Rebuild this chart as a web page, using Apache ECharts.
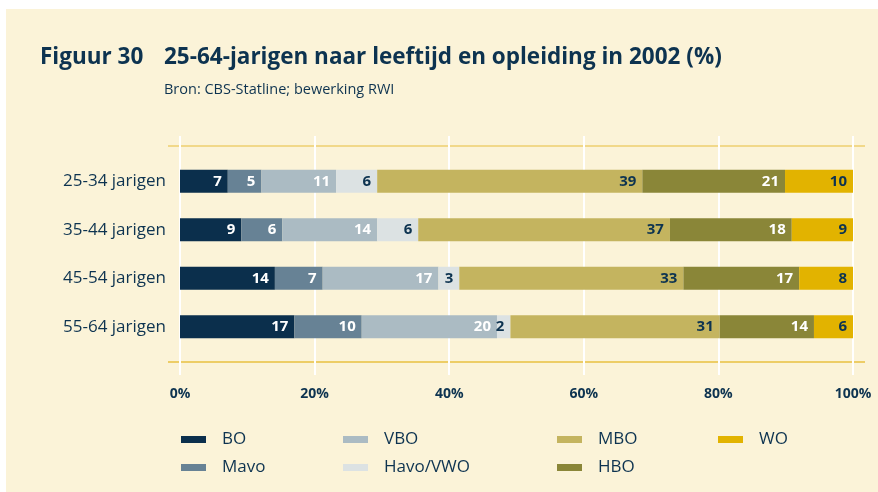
<!DOCTYPE html>
<html>
<head>
<meta charset="utf-8">
<title>Figuur 30</title>
<script src="https://cdn.jsdelivr.net/npm/echarts@6/dist/echarts.min.js"></script>
<style>
    html, body { margin: 0; padding: 0; background: #ffffff; }
    #chart { position: absolute; left: 6px; top: 9px; width: 872px; height: 483px; background: #fbf3d8; }
</style>
</head>
<body>
<div id="chart"></div>
<script>
// leeftijdsgroepen
var categories = ['25-34 jarigen', '35-44 jarigen', '45-54 jarigen', '55-64 jarigen'];
// aandelen per opleidingsniveau (%)
var bo    = [7.1, 9.1, 14.1, 17.0];
var mavo  = [5.0, 6.1, 7.1, 10.0];
var vbo   = [11.1, 14.1, 17.2, 20.1];
var havo  = [6.1, 6.1, 3.1, 2.0];
var mbo   = [39.4, 37.4, 33.3, 31.1];
var hbo   = [21.2, 18.1, 17.2, 14.0];
var wo    = [10.1, 9.1, 8.0, 5.9];
var xTicks = [0, 20, 40, 60, 80, 100];

var navy = '#0d3350';
var font = 'Open Sans';

function serie(name, data, color, labelColor) {
    return {
        name: name,
        type: 'bar',
        stack: 'totaal',
        xAxisIndex: 0,
        yAxisIndex: 0,
        barWidth: 23,
        data: data,
        itemStyle: { color: color },
        label: {
            show: true,
            position: 'insideRight',
            distance: 6,
            color: labelColor,
            fontFamily: font,
            fontWeight: 'bold',
            fontSize: 15,
            formatter: function (p) { return Math.round(p.value); }
        }
    };
}

var myChart = echarts.init(document.getElementById('chart'));
myChart.setOption({
    backgroundColor: '#fbf3d8',
    animation: false,
    title: [
        {
            text: 'Figuur 30',
            left: 34, top: 37, padding: 0,
            textStyle: { color: navy, fontFamily: font, fontWeight: 'bold', fontSize: 22.5 }
        },
        {
            text: '25-64-jarigen naar leeftijd en opleiding in 2002 (%)',
            subtext: 'Bron: CBS-Statline; bewerking RWI',
            left: 158, top: 37, padding: 0, itemGap: 13,
            textStyle: { color: navy, fontFamily: font, fontWeight: 'bold', fontSize: 22.5 },
            subtextStyle: { color: navy, fontFamily: font, fontSize: 14.5 }
        }
    ],
    legend: [
        { data: ['BO', 'Mavo'], left: 175, top: 422 },
        { data: ['VBO', 'Havo/VWO'], left: 337, top: 422 },
        { data: ['MBO', 'HBO'], left: 551, top: 422 },
        { data: ['WO'], left: 712, top: 422 }
    ].map(function (l) {
        return Object.assign(l, {
            orient: 'vertical', padding: 0,
            itemWidth: 25, itemHeight: 7, itemGap: 11,
            icon: 'rect',
            textStyle: { color: navy, fontFamily: font, fontSize: 17, padding: [0, 0, 0, 11] }
        });
    }),
    grid: [
        { left: 174, right: 25, top: 148, height: 194 },
        { left: 174, right: 25, top: 127, height: 239 }
    ],
    xAxis: [
        { gridIndex: 0, type: 'value', min: 0, max: 100, show: false },
        {
            gridIndex: 1, type: 'value', min: 0, max: 100, interval: 20,
            axisLine: { show: false }, axisTick: { show: false },
            splitLine: { show: true, lineStyle: { color: '#ffffff', width: 2 } },
            axisLabel: {
                margin: 12, color: navy, fontFamily: font, fontWeight: 'bold', fontSize: 14,
                formatter: function (v) { return xTicks.indexOf(v) >= 0 ? v + '%' : ''; }
            }
        }
    ],
    yAxis: [
        {
            gridIndex: 0, type: 'category', data: categories, inverse: true,
            axisLine: { show: false }, axisTick: { show: false },
            axisLabel: { margin: 14, color: navy, fontFamily: font, fontSize: 17 }
        },
        { gridIndex: 1, type: 'value', show: false }
    ],
    graphic: [
        { type: 'line', shape: { x1: 162, y1: 137, x2: 859, y2: 137 }, style: { stroke: '#f1d889', lineWidth: 2 } },
        { type: 'line', shape: { x1: 162, y1: 353, x2: 859, y2: 353 }, style: { stroke: '#e8c041', lineWidth: 1.5 } }
    ],
    series: [
        serie('BO', bo, '#0b2f4c', '#ffffff'),
        serie('Mavo', mavo, '#678295', '#ffffff'),
        serie('VBO', vbo, '#abbbc3', '#ffffff'),
        serie('Havo/VWO', havo, '#dce2e3', navy),
        serie('MBO', mbo, '#c4b45f', navy),
        serie('HBO', hbo, '#8a8638', '#ffffff'),
        serie('WO', wo, '#e2b300', navy)
    ]
});
</script>
</body>
</html>
